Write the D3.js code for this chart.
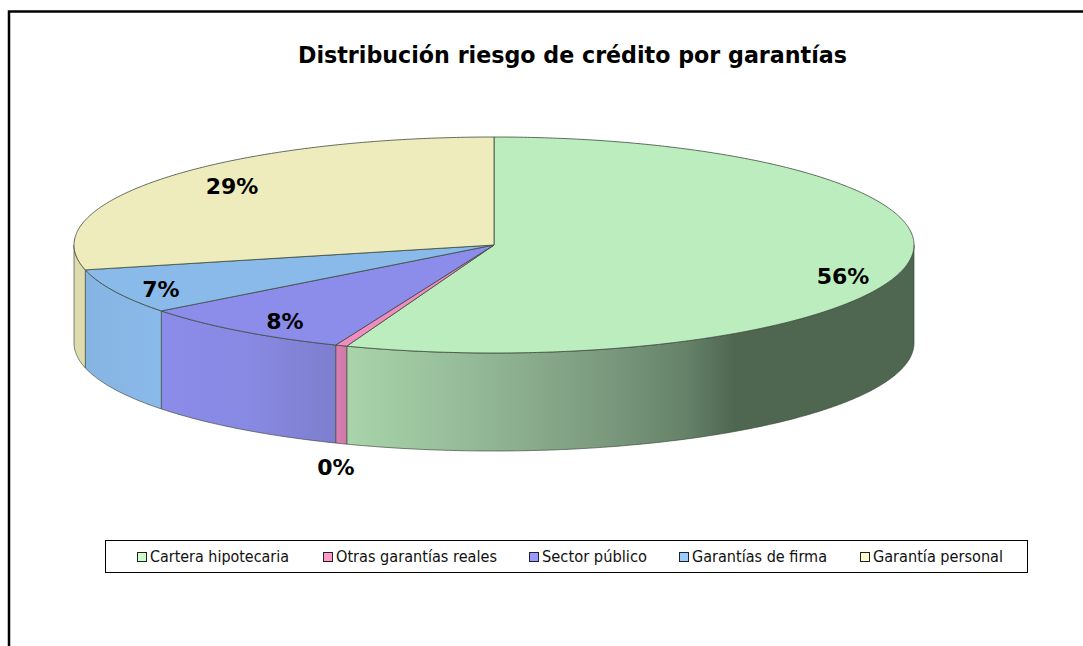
<!DOCTYPE html>
<html><head><meta charset="utf-8">
<script src="https://cdn.jsdelivr.net/npm/d3@7"></script>
<style>html,body{margin:0;background:#fff}svg{display:block}</style></head>
<body><svg id="c" width="1083" height="646"></svg>
<script>
const titleText = "Distribución riesgo de crédito por garantías";
const categories = ["Cartera hipotecaria","Otras garantías reales","Sector público","Garantías de firma","Garantía personal"];
const values = [55.7,0.45,8.4,6.75,28.7];
const labels = ["56%","0%","8%","7%","29%"];
const topColors = ["#bcedbe","#f08cc0","#8c8ceb","#8abaea","#eeecbd"];
const legendColors = ["#ccffcc","#ff99cc","#9999ff","#99ccff","#ffffcc"];
const labelAnchors = [[843,276],[336,467],[285,321],[161,289],[232,186]];
const legendX = [150,336,542,692,873];
const legendW = [139,161,105,135,130];

const svg = d3.select("#c");
const cx=494, cy=245, rx=420, ry=108, depth=98;
const pie = d3.pie().sort(null).value(d=>d);
const arcs = pie(values);
const px = d3.scaleLinear().domain([-1,1]).range([cx-rx,cx+rx]);
const py = d3.scaleLinear().domain([-1,1]).range([cy-ry,cy+ry]);
const pt = (a,dz=0)=>[px(Math.sin(a)),py(-Math.cos(a))+dz];
const samples=(a0,a1,dz=0)=>{const n=Math.max(2,Math.ceil((a1-a0)/0.01));return d3.range(n+1).map(i=>pt(a0+(a1-a0)*i/n,dz));};
const line=d3.line();
const edge="#3c4a3c";

// Gradients for the rim
const defs=svg.append("defs");
const rimStops=[
 [[0,"#a9d5ab"],[.4,"#8fb392"],[.66,"#7b9a7e"],[.87,"#66836a"],[1,"#4f6650"]],
 [[0,"#d87fb0"],[1,"#d07aa8"]],
 [[0,"#8b8ce9"],[.5,"#8889e2"],[1,"#7e7ecf"]],
 [[0,"#86b4e2"],[1,"#8abaea"]],
 [[0,"#dedcae"],[1,"#dedcae"]]
];
const rimRange=[[346,735],[336,346],[161,336],[85,161],[74,85]];
rimStops.forEach((st,i)=>{
  const g=defs.append("linearGradient").attr("id","rim"+i).attr("gradientUnits","userSpaceOnUse")
    .attr("x1",rimRange[i][0]).attr("x2",rimRange[i][1]).attr("y1",0).attr("y2",0);
  st.forEach(s=>g.append("stop").attr("offset",s[0]).attr("stop-color",s[1]));
});

// Frame
svg.append("path").attr("d","M9,646V11.5H1083").attr("fill","none").attr("stroke","#000").attr("stroke-width",2.5);

// Rim: only the part of each slice facing the viewer (angles between 90 and 270 deg)
const lo=Math.PI/2, hi=Math.PI*1.5;
arcs.forEach((d,i)=>{
  const a0=Math.max(d.startAngle,lo), a1=Math.min(d.endAngle,hi);
  if(a1<=a0) return;
  const p=[...samples(a0,a1),...samples(a0,a1,depth).reverse()];
  svg.append("path").attr("d",line(p)+"Z").attr("fill",`url(#rim${i})`).attr("stroke",edge).attr("stroke-width",.8).attr("stroke-opacity",.85);
});
// Top faces
arcs.forEach((d,i)=>{
  const p=[[cx,cy],...samples(d.startAngle,d.endAngle)];
  svg.append("path").attr("d",line(p)+"Z").attr("fill",topColors[i]).attr("stroke",edge).attr("stroke-width",.8).attr("stroke-linejoin","round");
});

// Title
svg.append("text").attr("x",572.5).attr("y",63).attr("text-anchor","middle")
  .attr("font-family","DejaVu Sans").attr("font-weight","bold").attr("font-size",23)
  .attr("textLength",549).attr("lengthAdjust","spacingAndGlyphs").attr("fill","#000").text(titleText);

// Data labels
labels.forEach((t,i)=>{
  svg.append("text").attr("x",labelAnchors[i][0]).attr("y",labelAnchors[i][1]+8).attr("text-anchor","middle")
    .attr("font-family","DejaVu Sans").attr("font-weight","bold").attr("font-size",22)
    .attr("fill","#000").text(t);
});

// Legend
svg.append("rect").attr("x",105.5).attr("y",540.5).attr("width",922).attr("height",32).attr("fill","#fff").attr("stroke","#000").attr("stroke-width",1);
categories.forEach((t,i)=>{
  svg.append("rect").attr("x",legendX[i]-12.5).attr("y",552.5).attr("width",9).attr("height",9)
    .attr("fill",legendColors[i]).attr("stroke","#222").attr("stroke-width",1);
  svg.append("text").attr("x",legendX[i]).attr("y",562).attr("font-family","DejaVu Sans").attr("font-size",15)
    .attr("textLength",legendW[i]).attr("lengthAdjust","spacingAndGlyphs").attr("fill","#111").text(t);
});
</script></body></html>
